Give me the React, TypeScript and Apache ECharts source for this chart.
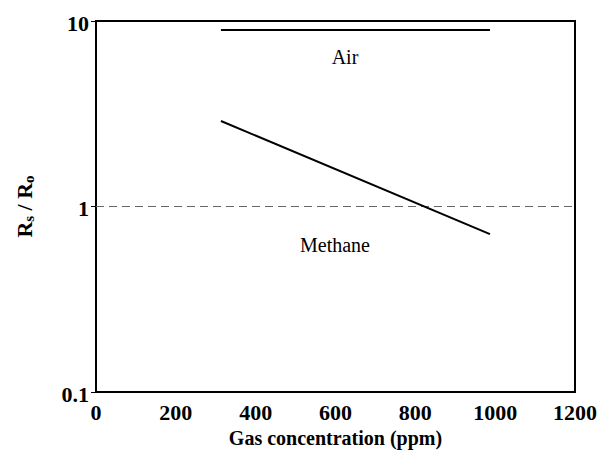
import React, { useEffect, useRef } from "react";
import * as echarts from "echarts";

const airX = [313, 987];
const airY = [8.94, 8.94];
const methaneX = [313, 987];
const methaneY = [2.89, 0.71];
const refX = [0, 1200];
const refY = [1, 1];
const xTicks = [0, 200, 400, 600, 800, 1000, 1200];
const yTicks = [0.1, 1, 10];
const xTitle = "Gas concentration (ppm)";
const yTitleParts = [
  { t: "R", sub: false },
  { t: "s", sub: true },
  { t: " / R", sub: false },
  { t: "o", sub: true },
];

const FONT = "Liberation Serif";

export default function App() {
  const ref = useRef<HTMLDivElement>(null);
  useEffect(() => {
    document.body.style.margin = "0";
    const chart = echarts.init(ref.current!, null, { renderer: "svg" });
    const pairs = (xs: number[], ys: number[]) => xs.map((x, i) => [x, ys[i]]);
    chart.setOption({
      animation: false,
      backgroundColor: "#fff",
      grid: {
        left: 96,
        top: 21,
        right: 27,
        bottom: 60,
        containLabel: false,
        outerBoundsMode: "none",
        show: true,
        borderColor: "#000",
        borderWidth: 2,
      },
      xAxis: {
        type: "value",
        min: xTicks[0],
        max: xTicks[xTicks.length - 1],
        interval: 200,
        axisLine: { show: true, lineStyle: { color: "#000", width: 2 } },
        axisTick: { show: false },
        splitLine: { show: false },
        axisLabel: { show: false },
      },
      yAxis: {
        type: "log",
        logBase: 10,
        min: yTicks[0],
        max: yTicks[yTicks.length - 1],
        axisLine: { show: true, lineStyle: { color: "#000", width: 2 } },
        axisTick: { show: true, inside: false, length: 5, lineStyle: { color: "#000", width: 1 } },
        splitLine: { show: false },
        axisLabel: { show: false },
      },
      series: [
        {
          type: "line",
          data: pairs(refX, refY),
          symbol: "none",
          lineStyle: { color: "#666", width: 1, type: [8, 5] },
        },
        {
          type: "line",
          data: pairs(airX, airY),
          symbol: "none",
          lineStyle: { color: "#000", width: 2 },
        },
        {
          type: "line",
          data: pairs(methaneX, methaneY),
          symbol: "none",
          lineStyle: { color: "#000", width: 2 },
        },
      ],
    });

    const toPx = (x: number, y: number) => chart.convertToPixel({ gridIndex: 0 }, [x, y]) as number[];
    const bold = (size: number) => ({ fontFamily: FONT, fontWeight: "bold", fontSize: size, fill: "#000" });
    const fmtY = (v: number) => (v < 1 ? v.toFixed(1) : String(Math.round(v)));

    const graphics: any[] = [];
    xTicks.forEach((v) => {
      const [px, py] = toPx(v, yTicks[0]);
      graphics.push({
        type: "text",
        x: px,
        y: py + 20,
        style: { text: String(v), ...bold(22), align: "center", verticalAlign: "middle" },
      });
    });
    yTicks.forEach((v) => {
      const [px, py] = toPx(xTicks[0], v);
      graphics.push({
        type: "text",
        x: px - 7,
        y: py + 2,
        style: { text: fmtY(v), ...bold(22), align: "right", verticalAlign: "middle" },
      });
    });
    const [xl] = toPx(xTicks[0], yTicks[0]);
    const [xr] = toPx(xTicks[xTicks.length - 1], yTicks[0]);
    const [, yb] = toPx(xTicks[0], yTicks[0]);
    const [, yt] = toPx(xTicks[0], yTicks[yTicks.length - 1]);
    graphics.push({
      type: "text",
      x: (xl + xr) / 2,
      y: yb + 46,
      style: { text: xTitle, ...bold(20), align: "center", verticalAlign: "middle" },
    });

    // y title: rotated group with subscripts
    const ctx = document.createElement("canvas").getContext("2d")!;
    const meas = (t: string, size: number) => {
      ctx.font = `bold ${size}px ${FONT}`;
      return ctx.measureText(t).width;
    };
    const mainSize = 22;
    const subSize = 15;
    const widths = yTitleParts.map((p) => meas(p.t, p.sub ? subSize : mainSize));
    const total = widths.reduce((a, b) => a + b, 0);
    let cur = -total / 2;
    const children = yTitleParts.map((p, i) => {
      const el = {
        type: "text",
        x: cur,
        y: p.sub ? 5 : 0,
        style: { text: p.t, ...bold(p.sub ? subSize : mainSize), align: "left", verticalAlign: "middle" },
      };
      cur += widths[i];
      return el;
    });
    graphics.push({
      type: "group",
      x: xl - 72,
      y: (yt + yb) / 2,
      rotation: Math.PI / 2,
      children,
    });

    graphics.push({
      type: "text",
      x: 345,
      y: 57,
      style: { text: "Air", fontFamily: FONT, fontSize: 20, fill: "#000", align: "center", verticalAlign: "middle" },
    });
    graphics.push({
      type: "text",
      x: 335,
      y: 245,
      style: { text: "Methane", fontFamily: FONT, fontSize: 20, fill: "#000", align: "center", verticalAlign: "middle" },
    });

    chart.setOption({ graphic: graphics });
    return () => chart.dispose();
  }, []);
  return <div ref={ref} style={{ width: 602, height: 452 }} />;
}
